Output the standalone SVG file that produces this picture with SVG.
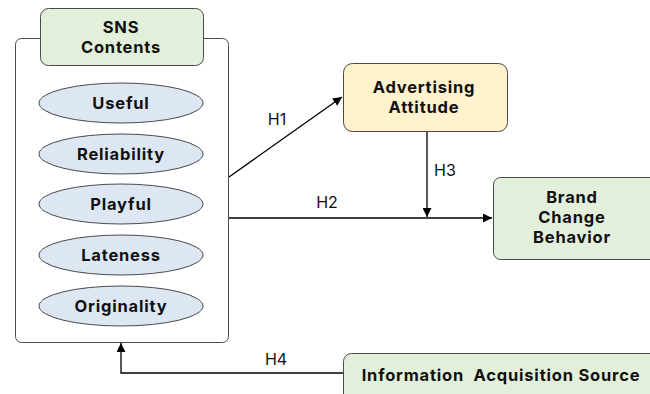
<svg xmlns="http://www.w3.org/2000/svg" width="650" height="394" viewBox="0 0 650 394">
  <defs>
    <marker id="arrow" viewBox="0 0 10 10" refX="10" refY="5" markerWidth="9" markerHeight="9" markerUnits="userSpaceOnUse" orient="auto">
      <path d="M0,0 L10,5 L0,10 z" fill="#000"/>
    </marker>
    <style>
      .box { stroke: #4a4a4a; stroke-width: 1; }
      .green { fill: #e2efda; }
      .yellow { fill: #fff2cc; }
      .oval { fill: #dde7f4; stroke: #4a4a4a; stroke-width: 1; }
      .label { font-family: Inter, "Open Sans", "Liberation Sans", sans-serif; font-weight: bold; font-size: 16.5px; letter-spacing: 0.8px; fill: #111; text-anchor: middle; }
      .hyp { font-family: Inter, "Open Sans", "Liberation Sans", sans-serif; font-size: 16px; fill: #111; text-anchor: middle; }
      .conn { fill: none; stroke: #000; stroke-width: 1.3; }
    </style>
  </defs>
  <rect width="650" height="394" fill="#fff"/>

  <!-- connectors -->
  <g id="connectors">
    <line class="conn" x1="229" y1="177" x2="342" y2="97" marker-end="url(#arrow)"/>
    <line class="conn" x1="229" y1="218" x2="492" y2="218" marker-end="url(#arrow)"/>
    <line class="conn" x1="427" y1="131" x2="427" y2="217" marker-end="url(#arrow)"/>
    <polyline class="conn" points="343,373 121,373 121,343" marker-end="url(#arrow)"/>
    <text class="hyp" x="277" y="125">H1</text>
    <text class="hyp" x="327" y="208">H2</text>
    <text class="hyp" x="445" y="176">H3</text>
    <text class="hyp" x="276" y="365">H4</text>
  </g>

  <!-- SNS contents group -->
  <g id="sns-contents">
    <rect class="box" x="15.5" y="38.5" width="213" height="304" rx="6" fill="#fff"/>
    <rect class="box green" x="40.5" y="8.5" width="163" height="57" rx="8"/>
    <text class="label" x="121" y="33">SNS</text>
    <text class="label" x="121" y="53">Contents</text>
  </g>

  <g id="useful">
    <ellipse class="oval" cx="121" cy="103" rx="82" ry="20"/>
    <text class="label" x="121" y="109">Useful</text>
  </g>
  <g id="reliability">
    <ellipse class="oval" cx="121" cy="154" rx="82" ry="20"/>
    <text class="label" x="121" y="160">Reliability</text>
  </g>
  <g id="playful">
    <ellipse class="oval" cx="121" cy="204" rx="82" ry="20"/>
    <text class="label" x="121" y="210">Playful</text>
  </g>
  <g id="lateness">
    <ellipse class="oval" cx="121" cy="255" rx="82" ry="20"/>
    <text class="label" x="121" y="261">Lateness</text>
  </g>
  <g id="originality">
    <ellipse class="oval" cx="121" cy="306" rx="82" ry="20"/>
    <text class="label" x="121" y="312">Originality</text>
  </g>

  <g id="advertising-attitude">
    <rect class="box yellow" x="343.5" y="63.5" width="164" height="68" rx="9"/>
    <text class="label" x="424" y="93">Advertising</text>
    <text class="label" x="424" y="113">Attitude</text>
  </g>

  <g id="brand-change-behavior">
    <rect class="box green" x="493.5" y="177.5" width="170" height="82" rx="7"/>
    <text class="label" x="572" y="203">Brand</text>
    <text class="label" x="572" y="223">Change</text>
    <text class="label" x="572" y="243">Behavior</text>
  </g>

  <g id="information-acquisition-source">
    <rect class="box green" x="343.5" y="353.5" width="320" height="60" rx="8"/>
    <text class="label" x="501" y="381" xml:space="preserve">Information  Acquisition Source</text>
  </g>
</svg>
